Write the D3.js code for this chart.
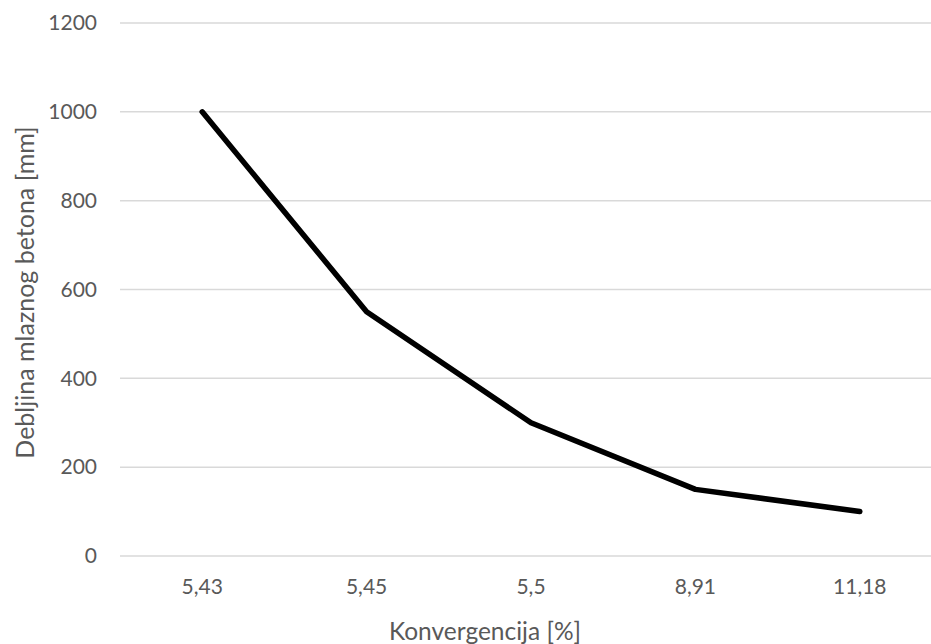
<!DOCTYPE html>
<html><head><meta charset="utf-8">
<script src="https://cdn.jsdelivr.net/npm/d3@7"></script>
<style>body{margin:0;background:#fff}svg{display:block}text{font-family:Lato,"Open Sans",sans-serif}</style>
</head><body>
<script>
const categories = ["5,43","5,45","5,5","8,91","11,18"];
const values = [1000, 550, 300, 150, 100];
const yTicks = [0, 200, 400, 600, 800, 1000, 1200];
const xTitle = "Konvergencija [%]";
const yTitle = "Debljina mlaznog betona [mm]";

(function () {
const W = 931, H = 644;
const mLeft = 120, mRight = 942, mTop = 23, mBottom = 556;
const svg = d3.select("body").append("svg").attr("width", W).attr("height", H);

const x = d3.scaleBand().domain(categories).range([mLeft, mRight]);
const y = d3.scaleLinear().domain([0, 1200]).range([mBottom, mTop]);

svg.append("g").selectAll("line").data(yTicks).join("line")
  .attr("x1", mLeft).attr("x2", mRight)
  .attr("y1", d => y(d)).attr("y2", d => y(d))
  .attr("stroke", "#d9d9d9").attr("stroke-width", 1.5);

const yAxis = d3.axisLeft(y).tickValues(yTicks).tickFormat(d3.format("d")).tickSize(0).tickPadding(0);
const gy = svg.append("g").attr("transform", `translate(${mLeft - 23},0)`).call(yAxis);
gy.select(".domain").remove();
gy.selectAll("text").attr("fill", "#595959").style("font-size", "21px").style("font-family", "Lato, sans-serif");

const xAxis = d3.axisBottom(x).tickSize(0).tickPadding(0);
const gx = svg.append("g").attr("transform", `translate(0,${mBottom + 23})`).call(xAxis);
gx.select(".domain").remove();
gx.selectAll("text").attr("fill", "#595959").style("font-size", "21px").style("font-family", "Lato, sans-serif");

const line = d3.line().x((d, i) => x(categories[i]) + x.bandwidth() / 2).y(d => y(d));
svg.append("path").datum(values).attr("d", line)
  .attr("fill", "none").attr("stroke", "#000").attr("stroke-width", 5.5)
  .attr("stroke-linejoin", "round").attr("stroke-linecap", "round");

svg.append("text").attr("x", 485).attr("y", 640).attr("text-anchor", "middle")
  .attr("fill", "#595959").style("font-size", "24.5px").text(xTitle);
svg.append("text").attr("transform", `translate(34,${(mTop + mBottom) / 2 + 3}) rotate(-90)`)
  .attr("text-anchor", "middle").attr("fill", "#595959").style("font-size", "25px").text(yTitle);
})();
</script>
</body></html>
